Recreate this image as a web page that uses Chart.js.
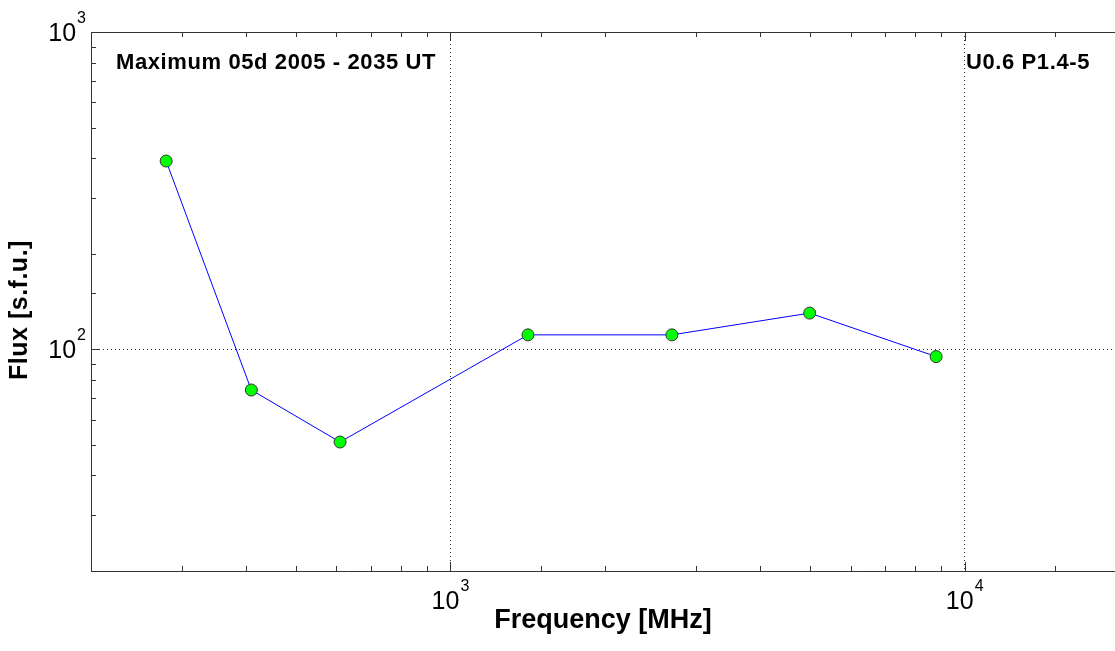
<!DOCTYPE html>
<html>
<head>
<meta charset="utf-8">
<script src="https://cdn.jsdelivr.net/npm/chart.js@4.4.1/dist/chart.umd.min.js"></script>
<style>
    html, body { margin: 0; padding: 0; background: #fff; overflow: hidden; }
    #wrap { width: 1115px; height: 651px; }
</style>
</head>
<body>
<div id="wrap"><canvas id="spectrum" width="1115" height="651"></canvas></div>
<script>
// peak spectrum values
const freqMHz = [280, 410, 610, 1415, 2695, 4995, 8800];
const fluxSfu = [392, 74.4, 51, 111, 111, 130, 94.8];

// the axes run on past the right edge of the figure
const xRange = [200, 19600];
const yRange = [20, 1000];

// decade tick labels: 10^exp
const xTickValues = [1000, 10000];
const xTickExps = ['3', '4'];
const yTickValues = [100, 1000];
const yTickExps = ['2', '3'];

const leftNote = 'Maximum 05d 2005 - 2035 UT';
const rightNote = 'U0.6 P1.4-5';
const yTitle = 'Flux [s.f.u.]';

const FONT = "'Liberation Sans', Arial, sans-serif";
const isDecade = v => Math.abs(Math.log10(v) - Math.round(Math.log10(v))) < 1e-6;

function drawPow(ctx, exp, x, baseline, align) {
    ctx.font = `25px ${FONT}`;
    const wBase = ctx.measureText('10').width;
    ctx.font = `16px ${FONT}`;
    const wExp = ctx.measureText(exp).width;
    const total = wBase + wExp + 1;
    const start = align === 'right' ? x - total : x - total / 2;
    ctx.font = `25px ${FONT}`;
    ctx.fillText('10', start, baseline);
    ctx.font = `16px ${FONT}`;
    ctx.fillText(exp, start + wBase + 1, baseline - 18);
}

// box, inward ticks, decade labels, y title and the two notes
const frameAndLabels = {
    id: 'frameAndLabels',
    afterDraw(chart) {
        const { ctx, chartArea: a, scales: { x, y } } = chart;
        ctx.save();
        ctx.strokeStyle = '#333';
        ctx.lineWidth = 1;

        ctx.beginPath();
        ctx.moveTo(a.left + 0.5, a.bottom + 0.5);
        ctx.lineTo(a.left + 0.5, a.top + 0.5);
        ctx.lineTo(a.right, a.top + 0.5);
        ctx.moveTo(a.left + 0.5, a.bottom + 0.5);
        ctx.lineTo(a.right, a.bottom + 0.5);
        ctx.stroke();

        ctx.beginPath();
        x.ticks.forEach(t => {
            const px = Math.round(x.getPixelForValue(t.value)) + 0.5;
            if (px < a.left + 1 || px > a.right - 1) return;
            const len = isDecade(t.value) ? 9 : 5;
            ctx.moveTo(px, a.bottom); ctx.lineTo(px, a.bottom - len);
            ctx.moveTo(px, a.top); ctx.lineTo(px, a.top + len);
        });
        y.ticks.forEach(t => {
            const py = Math.round(y.getPixelForValue(t.value)) + 0.5;
            const len = isDecade(t.value) ? 9 : 5;
            ctx.moveTo(a.left, py); ctx.lineTo(a.left + len, py);
        });
        ctx.stroke();

        ctx.fillStyle = '#000';
        ctx.textBaseline = 'alphabetic';
        ctx.textAlign = 'left';
        xTickValues.forEach((v, i) => {
            drawPow(ctx, xTickExps[i], x.getPixelForValue(v), a.bottom + 38, 'center');
        });
        yTickValues.forEach((v, i) => {
            drawPow(ctx, yTickExps[i], a.left - 5, y.getPixelForValue(v) + 9, 'right');
        });

        ctx.font = `bold 22px ${FONT}`;
        ctx.letterSpacing = '0.6px';
        ctx.fillText(leftNote, 116, 69);
        ctx.fillText(rightNote, 966, 69);

        ctx.save();
        ctx.translate(20, 310);
        ctx.rotate(-Math.PI / 2);
        ctx.textAlign = 'center';
        ctx.textBaseline = 'middle';
        ctx.letterSpacing = '0.5px';
        ctx.font = `bold 25px ${FONT}`;
        ctx.fillText(yTitle, 0, 0);
        ctx.restore();

        ctx.restore();
    }
};

const gridColor = c => (c.tick && isDecade(c.tick.value)) ? '#333' : 'rgba(0,0,0,0)';

new Chart(document.getElementById('spectrum'), {
    type: 'line',
    data: {
        datasets: [{
            data: freqMHz.map((f, i) => ({ x: f, y: fluxSfu[i] })),
            borderColor: '#0000ff',
            borderWidth: 1,
            pointRadius: 6,
            pointBackgroundColor: '#00ff00',
            pointBorderColor: '#333',
            pointBorderWidth: 1,
            tension: 0
        }]
    },
    options: {
        responsive: false,
        animation: false,
        events: [],
        layout: { autoPadding: false, padding: { left: 0, top: 32, right: 0, bottom: 0 } },
        plugins: {
            legend: { display: false },
            tooltip: { enabled: false }
        },
        scales: {
            x: {
                type: 'logarithmic',
                min: xRange[0],
                max: xRange[1],
                afterFit: s => { s.height = 80; },
                ticks: { display: false, autoSkip: false },
                grid: { drawTicks: false, lineWidth: 1, color: gridColor },
                border: { display: false, dash: [1, 3] },
                title: {
                    display: true,
                    text: 'Frequency [MHz]',
                    color: '#000',
                    font: { family: FONT, size: 27, weight: 'bold' },
                    padding: { top: 0, bottom: 14 }
                }
            },
            y: {
                type: 'logarithmic',
                min: yRange[0],
                max: yRange[1],
                afterFit: s => { s.width = 91; },
                ticks: { display: false, autoSkip: false },
                grid: { drawTicks: false, lineWidth: 1, color: gridColor },
                border: { display: false, dash: [1, 3] },
                title: { display: false }
            }
        }
    },
    plugins: [frameAndLabels]
});
</script>
</body>
</html>
